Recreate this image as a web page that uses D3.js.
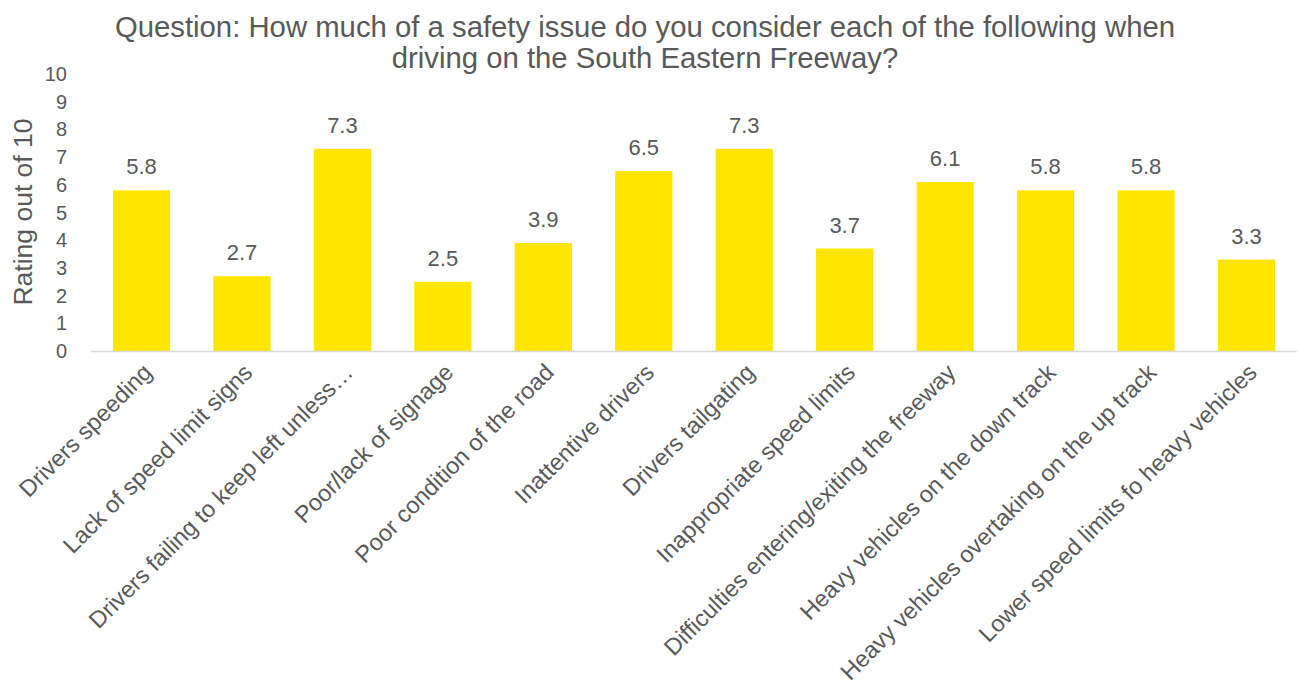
<!DOCTYPE html>
<html><head><meta charset="utf-8">
<script src="https://cdn.jsdelivr.net/npm/d3@7"></script>
<style>body{margin:0;background:#fff}svg{display:block}text{font-family:"Liberation Sans",Arial,sans-serif;fill:#595959}</style>
</head><body><svg id="c" width="1298" height="693"></svg>
<script>
const categories = ["Drivers speeding","Lack of speed limit signs","Drivers failing to keep left unless…","Poor/lack of signage","Poor condition of the road","Inattentive drivers","Drivers tailgating","Inappropriate speed limits","Difficulties entering/exiting the freeway","Heavy vehicles on the down track","Heavy vehicles overtaking on the up track","Lower speed limits fo heavy vehicles"];
const values = [5.8,2.7,7.3,2.5,3.9,6.5,7.3,3.7,6.1,5.8,5.8,3.3];
const yTicks = [0,1,2,3,4,5,6,7,8,9,10];
const titleLines = ["Question: How much of a safety issue do you consider each of the following when","driving on the South Eastern Freeway?"];
const yTitle = "Rating out of 10";

const svg = d3.select("#c");
const x = d3.scaleBand().domain(categories).range([91.3,1296.7]).paddingInner(0.43).paddingOuter(0.215);
const y = d3.scaleLinear().domain([0,10]).range([351,74]);

svg.append("g").selectAll("text").data(titleLines).join("text")
  .attr("x",645).attr("y",(d,i)=>37+i*31).attr("text-anchor","middle").attr("font-size",29.3).text(d=>d);

svg.append("text").attr("transform","translate(23,212) rotate(-90)").attr("text-anchor","middle")
  .attr("dominant-baseline","central").attr("font-size",26.5).text(yTitle);

svg.append("g").selectAll("text").data(yTicks).join("text")
  .attr("x",67).attr("y",d=>y(d)).attr("dy","0.35em").attr("text-anchor","end").attr("font-size",20).text(d=>d);

svg.append("g").selectAll("rect").data(values).join("rect")
  .attr("x",(d,i)=>x(categories[i])).attr("width",x.bandwidth())
  .attr("y",d=>y(d)).attr("height",d=>y(0)-y(d)).attr("fill","#FFE600");

svg.append("line").attr("x1",91).attr("x2",1297).attr("y1",351.5).attr("y2",351.5).attr("stroke","#d9d9d9").attr("stroke-width",1.5);

svg.append("g").selectAll("text").data(values).join("text")
  .attr("x",(d,i)=>x(categories[i])+x.bandwidth()/2).attr("y",d=>y(d)-16)
  .attr("text-anchor","middle").attr("font-size",22).text(d=>d.toFixed(1));

svg.append("g").selectAll("text").data(categories).join("text")
  .attr("transform",d=>`translate(${x(d)+x.bandwidth()/2+6},${368}) rotate(-45)`)
  .attr("text-anchor","end").attr("dy","0.35em").attr("font-size",23.5).text(d=>d);
</script></body></html>
